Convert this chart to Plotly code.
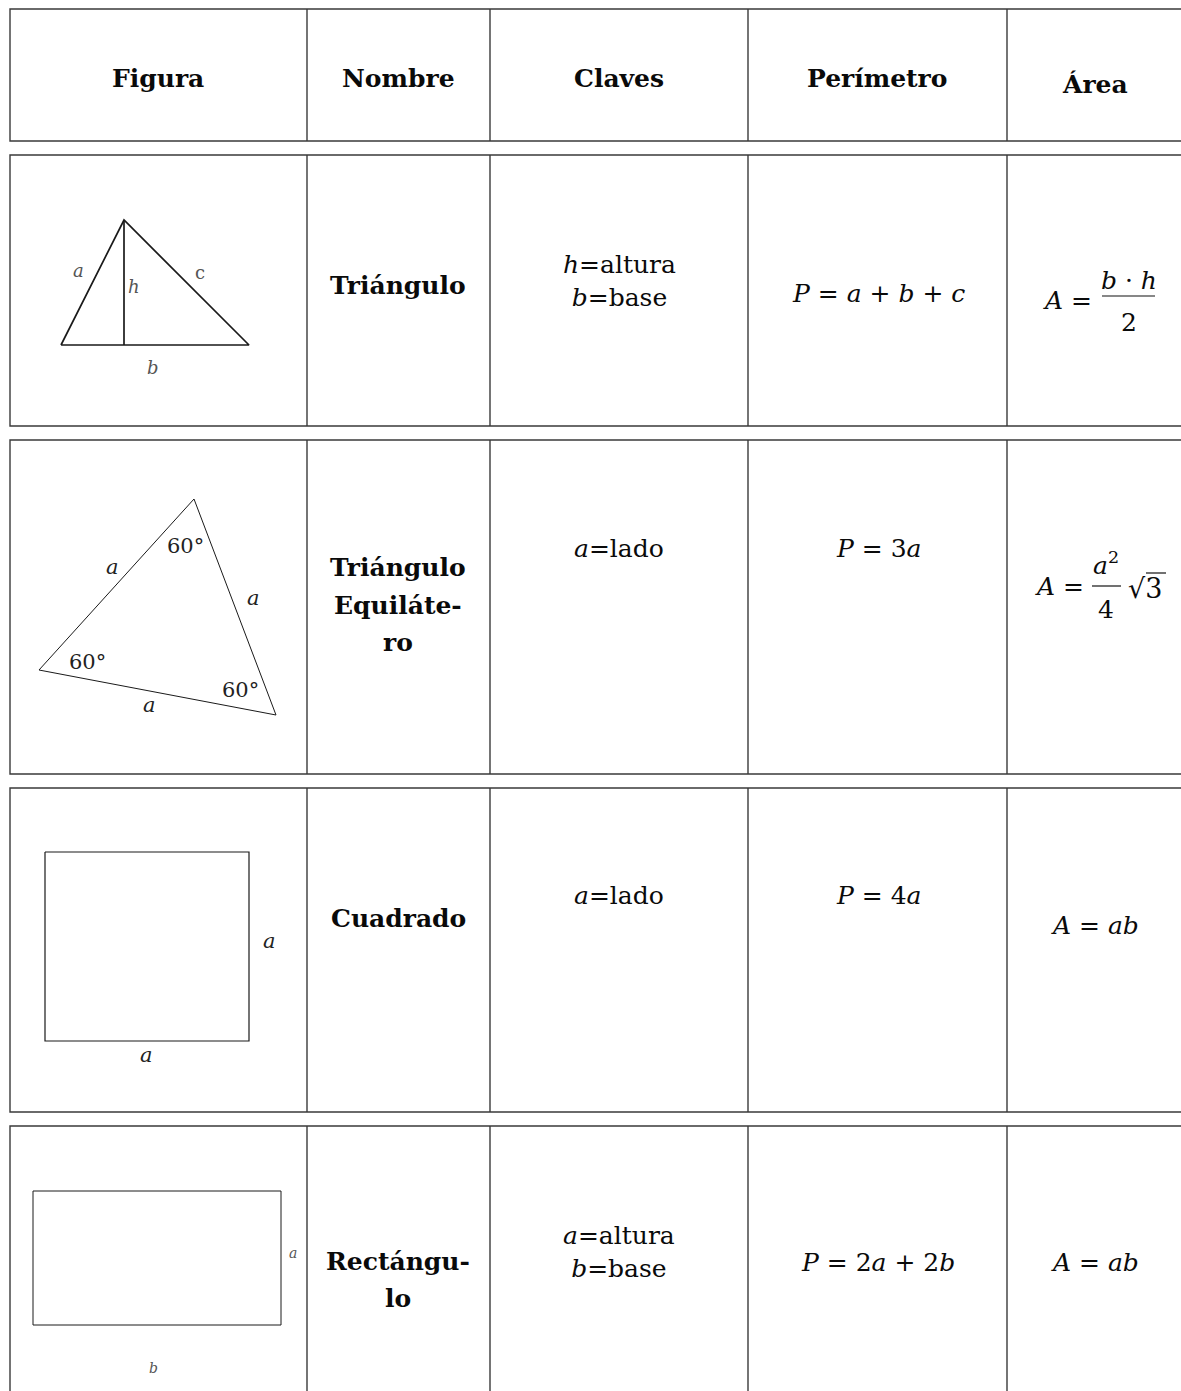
import plotly.graph_objects as go

# table grid (pixel space of the page)
col_edges = [10, 307, 490, 748, 1007, 1200]
row_bands = [(9, 141), (155, 426), (440, 774), (788, 1112), (1126, 1410)]

headers = ["Figura", "Nombre", "Claves", "Perímetro", "Área"]
names = ["Triángulo", "Triángulo<br>Equiláte-<br>ro", "Cuadrado", "Rectángu-<br>lo"]
claves = ["<i>h</i>=altura<br><i>b</i>=base", "<i>a</i>=lado", "<i>a</i>=lado",
          "<i>a</i>=altura<br><i>b</i>=base"]
perimetros = ["<i>P</i> = <i>a</i> + <i>b</i> + <i>c</i>", "<i>P</i> = 3<i>a</i>",
              "<i>P</i> = 4<i>a</i>", "<i>P</i> = 2<i>a</i> + 2<i>b</i>"]

# figure drawings
tri_x = [61, 124, 249, 61]
tri_y = [345, 220, 345, 345]
alt_x = [124, 124]
alt_y = [220, 345]
tri_labels = [("a", 78, 270), ("h", 134, 286), ("c", 200, 272), ("b", 153, 367)]

eq_x = [39, 194, 276, 39]
eq_y = [670, 499, 715, 670]
eq_labels = [("a", 112, 567), ("60°", 185, 546), ("a", 253, 598),
             ("60°", 87, 662), ("60°", 240, 690), ("a", 149, 705)]

sq_x = [45, 249, 249, 45, 45]
sq_y = [852, 852, 1041, 1041, 852]
sq_labels = [("a", 269, 941), ("a", 146, 1055)]

rect_x = [33, 281, 281, 33, 33]
rect_y = [1191, 1191, 1325, 1325, 1191]
rect_labels = [("a", 293, 1253), ("b", 153, 1368)]

FONT = "DejaVu Serif"
LINE = "#3a3a3a"

fig = go.Figure()

for xs, ys, w in [(tri_x, tri_y, 1.7), (alt_x, alt_y, 1.7), (eq_x, eq_y, 1.0),
                  (sq_x, sq_y, 1.2), (rect_x, rect_y, 1.0)]:
    fig.add_trace(go.Scatter(x=xs, y=ys, mode="lines",
                             line=dict(color="#1a1a1a", width=w), hoverinfo="skip"))

shapes = []
# row boxes
for top, bot in row_bands:
    shapes.append(dict(type="rect", x0=col_edges[0], x1=col_edges[-1], y0=top, y1=bot,
                       line=dict(color=LINE, width=1.4)))
    for cx in col_edges[1:-1]:
        shapes.append(dict(type="line", x0=cx, x1=cx, y0=top, y1=bot,
                           line=dict(color=LINE, width=1.4)))

ann = []
centers = [158, 398, 619, 877, 1095]


def txt(t, x, y, size=25, bold=False, color="#0a0a0a", italic=False, anchor="center"):
    if bold:
        t = "<b>" + t + "</b>"
    if italic:
        t = "<i>" + t + "</i>"
    ann.append(dict(text=t, x=x, y=y, xref="x", yref="y", showarrow=False,
                    font=dict(family=FONT, size=size, color=color),
                    xanchor=anchor, yanchor="middle"))


# header
for i, h in enumerate(headers):
    txt(h, centers[i], 84 if h == "Área" else 78, size=25, bold=True)

# names: one annotation per line to get the wider line spacing
name_y = [285, 605, 918, 1280]
for n, y in zip(names, name_y):
    parts = n.split("<br>")
    first = y - (len(parts) - 1) * 37.5 / 2
    for k, p in enumerate(parts):
        txt(p, centers[1], first + k * 37.5, size=25, bold=True)

clave_y = [281, 548, 895, 1252]
for c, y in zip(claves, clave_y):
    txt(c, centers[2], y, size=25)

perim_y = [293, 548, 895, 1262]
for p, y in zip(perimetros, perim_y):
    txt(p, 878, y, size=25)

# area formulas
txt("<i>A</i> =", 1094, 300, size=25, anchor="right")
txt("<i>b</i> · <i>h</i>", 1129, 280, size=25)
shapes.append(dict(type="line", x0=1102, x1=1155, y0=296, y1=296, line=dict(color="#111", width=1.2)))
txt("2", 1129, 322, size=25)

txt("<i>A</i> =", 1086, 586, size=25, anchor="right")
txt("<i>a</i><sup>2</sup>", 1106, 563, size=25)
shapes.append(dict(type="line", x0=1092, x1=1121, y0=586, y1=586, line=dict(color="#111", width=1.2)))
txt("4", 1106, 609, size=25)
txt("√3", 1126, 588, size=27, anchor="left")
shapes.append(dict(type="line", x0=1146, x1=1166, y0=573, y1=573, line=dict(color="#111", width=1.2)))

txt("<i>A</i> = <i>ab</i>", 1095, 925, size=25)
txt("<i>A</i> = <i>ab</i>", 1095, 1262, size=25)

# figure labels
for lab, x, y in tri_labels:
    txt(lab, x, y, size=18, color="#555", italic=(lab != "c"))
for lab, x, y in eq_labels:
    txt(lab, x, y, size=21, color="#222", italic=(lab == "a"))
for lab, x, y in sq_labels:
    txt(lab, x, y, size=21, color="#222", italic=True)
for lab, x, y in rect_labels:
    txt(lab, x, y, size=14, color="#555", italic=True)

fig.update_layout(
    width=1181, height=1391,
    margin=dict(l=0, r=0, t=0, b=0),
    paper_bgcolor="white", plot_bgcolor="white",
    showlegend=False,
    xaxis=dict(range=[0, 1181], visible=False, fixedrange=True),
    yaxis=dict(range=[1391, 0], visible=False, fixedrange=True),
    shapes=shapes, annotations=ann,
)

fig.write_html(
    "out.html",
    config={"displayModeBar": False},
    post_script="document.body.style.margin='0';document.body.style.overflow='hidden';",
)
